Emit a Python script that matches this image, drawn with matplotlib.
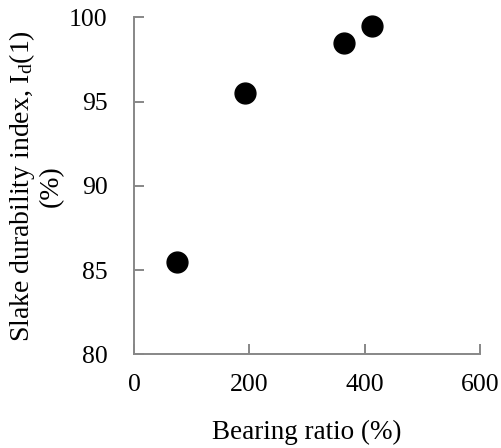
import matplotlib
matplotlib.use("Agg")
import matplotlib.pyplot as plt

plt.rcParams['font.family'] = ['Liberation Serif', 'DejaVu Serif']
plt.rcParams['mathtext.fontset'] = 'custom'
plt.rcParams['mathtext.rm'] = 'Liberation Serif'

bearing_ratio = [74, 193, 364, 413]
slake_index = [85.5, 95.5, 98.5, 99.5]
x_ticks = [0, 200, 400, 600]
y_ticks = [80, 85, 90, 95, 100]

fig = plt.figure(figsize=(5.01, 4.48), dpi=100)
ax = fig.add_axes([0.2675, 0.209, 0.6905, 0.752])

ax.scatter(bearing_ratio, slake_index, s=225, color='black', zorder=3, clip_on=False)

ax.set_xlim(0, 600)
ax.set_ylim(80, 100)
ax.set_xticks(x_ticks)
ax.set_yticks(y_ticks)

grey = '#878787'
for side in ['top', 'right']:
    ax.spines[side].set_visible(False)
for side in ['left', 'bottom']:
    ax.spines[side].set_color(grey)
    ax.spines[side].set_linewidth(1.4)

ax.tick_params(axis='both', direction='in', length=7, width=1.4, color=grey,
               labelsize=18.5, labelcolor='black')
ax.tick_params(axis='y', pad=19)
ax.tick_params(axis='x', pad=14)

ax.set_xlabel('Bearing ratio (%)', fontsize=19.5, labelpad=17)
ax.set_ylabel('Slake durability index, I$\\mathregular{_d}$(1)\n(%)', fontsize=20,
              labelpad=4, linespacing=1.1)

fig.savefig('out.png', dpi=100)
